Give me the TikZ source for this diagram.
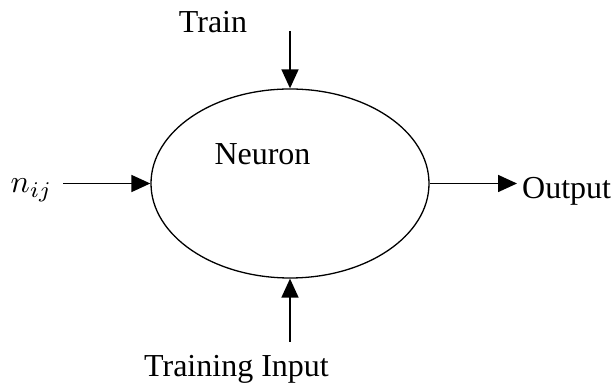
\documentclass[tikz,border=0pt]{standalone}
\usepackage{fontspec}
\setmainfont{Liberation Serif}
\usetikzlibrary{arrows.meta,shapes.geometric}
\begin{document}
\begin{tikzpicture}[x=1pt,y=1pt,
  lbl/.style={inner sep=0pt,font=\fontsize{32}{38}\selectfont},
  neuronshape/.style={draw,ellipse,line width=1.3pt,minimum width=278pt,minimum height=189pt,inner sep=0pt},
  flow/.style={line width=1.7pt,-{Triangle[length=19pt,width=17pt]}}]
\useasboundingbox (0,0) rectangle (613,387);
\node[neuronshape] (neuron) at (290,203.5) {};
\node[lbl,anchor=base] (name) at (262.5,222) {Neuron};
\node[lbl,anchor=base] (train) at (213,354) {Train};
\node[lbl,anchor=base] (tinput) at (236.5,10) {Training Input};
\node[lbl,anchor=base west] (output) at (522,188) {Output};
\node[inner sep=0pt,anchor=base west,font=\fontsize{10}{12}\selectfont,scale=3.2] (nij) at (10,194) {$n_{ij}$};
\coordinate (ttop) at (290,356);
\coordinate (tbot) at (290,45);
\coordinate (tleft) at (63,203.5);
\coordinate (tright) at (517,203.5);
\draw[flow] (ttop) -- (neuron.north);
\draw[flow] (tbot) -- (neuron.south);
\draw[flow] (tleft) -- (neuron.west);
\draw[flow] (neuron.east) -- (tright);
\end{tikzpicture}
\end{document}
